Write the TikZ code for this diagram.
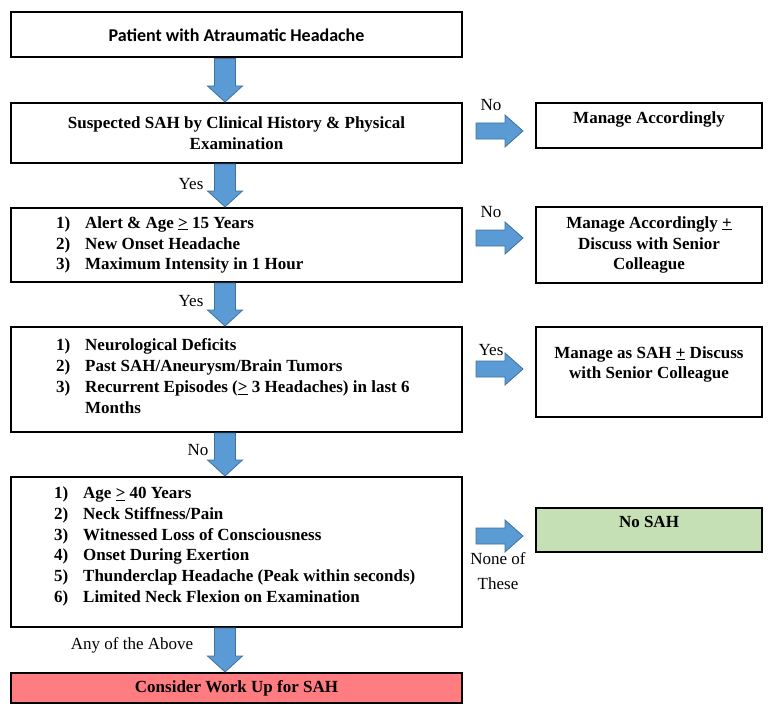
\documentclass[tikz,border=0pt]{standalone}
\usepackage{fontspec}
\setmainfont{Liberation Serif}
\newfontfamily\calibri{Carlito}
\usetikzlibrary{calc}
\definecolor{arrowfill}{HTML}{5B9BD5}
\definecolor{arrowline}{HTML}{41719C}
\definecolor{greenbox}{HTML}{C5E0B4}
\definecolor{redbox}{HTML}{FF7C80}

\newcommand{\itm}[2]{\makebox[29bp][l]{#1}#2}
% block arrow down, from box to box
\newcommand{\blockdown}[2]{%
  \draw[blockarrow] let \p1=($(#1.south west)+(215,0)$), \p2=(#2.north) in
    (\x1-10.5bp,\y1) -- (\x1+10.5bp,\y1) -- (\x1+10.5bp,\y2+16bp) -- (\x1+17.5bp,\y2+16bp)
    -- (\x1,\y2) -- (\x1-17.5bp,\y2+16bp) -- (\x1-10.5bp,\y2+16bp) -- cycle;}
% block arrow right, between two boxes at height #3
\newcommand{\blockright}[3]{%
  \draw[blockarrow] let \p1=(#1.east), \p2=(#2.west), \p3=(0,#3) in
    (\x1+13bp,\y3+8bp) -- (\x2-30bp,\y3+8bp) -- (\x2-30bp,\y3+16bp) -- (\x2-12bp,\y3)
    -- (\x2-30bp,\y3-16bp) -- (\x2-30bp,\y3-8bp) -- (\x1+13bp,\y3-8bp) -- cycle;}

\begin{document}
\begin{tikzpicture}[x=1bp, y=-1bp,
    font=\fontsize{17bp}{20.8bp}\selectfont\bfseries,
    box/.style={draw=black, line width=2bp, minimum width=451bp, inner sep=0pt},
    sidebox/.style={box, minimum width=226bp},
    listtext/.style={anchor=west, align=left, inner sep=0pt},
    tag/.style={font=\fontsize{17bp}{25bp}\selectfont, align=center, inner sep=0pt},
    blockarrow/.style={fill=arrowfill, draw=arrowline, line width=0.8bp, line join=miter}]
  \useasboundingbox (0,0) rectangle (768,714);

  % main column
  \node[box, minimum height=45bp, font=\calibri\fontsize{18bp}{22bp}\selectfont\bfseries] (b1) at (236.5,35) {Patient with Atraumatic Headache};
  \node[box, minimum height=60bp, align=center] (b2) at (236.5,133) {Suspected SAH by Clinical History \& Physical\\Examination};
  \node[box, minimum height=74bp] (b3) at (236.5,245) {};
  \node[listtext] (t3) at ($(b3.west)+(46,0)$) {\itm{1)}{Alert \& Age \underline{>} 15 Years}\\
    \itm{2)}{New Onset Headache}\\
    \itm{3)}{Maximum Intensity in 1 Hour}};
  \node[box, minimum height=105bp] (b4) at (236.5,379.5) {};
  \node[listtext] (t4) at ($(b4.west)+(46,-3.5)$) {\itm{1)}{Neurological Deficits}\\
    \itm{2)}{Past SAH/Aneurysm/Brain Tumors}\\
    \itm{3)}{Recurrent Episodes (\underline{>} 3 Headaches) in last 6}\\
    \itm{}{Months}};
  \node[box, minimum height=150bp] (b5) at (236.5,552) {};
  \node[listtext] (t5) at ($(b5.west)+(44,-5.5)$) {\itm{1)}{Age \underline{>} 40 Years}\\
    \itm{2)}{Neck Stiffness/Pain}\\
    \itm{3)}{Witnessed Loss of Consciousness}\\
    \itm{4)}{Onset During Exertion}\\
    \itm{5)}{Thunderclap Headache (Peak within seconds)}\\
    \itm{6)}{Limited Neck Flexion on Examination}};
  \node[box, minimum height=30bp, fill=redbox] (b6) at (236.5,688) {Consider Work Up for SAH};

  % right column
  \node[sidebox, minimum height=45bp] (r1) at (649,125.5) {};
  \node (r1t) at (649,119) {Manage Accordingly};
  \node[sidebox, minimum height=76bp, align=center] (r2) at (649,245) {Manage Accordingly \underline{+}\\Discuss with Senior\\Colleague};
  \node[sidebox, minimum height=90bp] (r3) at (649,372) {};
  \node[align=center] (r3t) at (649,364.5) {Manage as SAH \underline{+} Discuss\\with Senior Colleague};
  \node[sidebox, minimum height=44bp, fill=greenbox] (r4) at (649,530) {};
  \node (r4t) at (649,522) {No SAH};

  % arrows
  \blockdown{b1}{b2}
  \blockdown{b2}{b3}
  \blockdown{b3}{b4}
  \blockdown{b4}{b5}
  \blockdown{b5}{b6}
  \blockright{b2}{r1}{131}
  \blockright{b3}{r2}{238}
  \blockright{b4}{r3}{369}
  \blockright{b5}{r4}{536}

  % labels
  \node[tag] (l1) at (191,184) {Yes};
  \node[tag] (l2) at (191,301) {Yes};
  \node[tag] (l3) at (198,450) {No};
  \node[tag] (l4) at (132,645) {Any of the Above};
  \node[tag] (l5) at (491,105) {No};
  \node[tag] (l6) at (491,212) {No};
  \node[tag] (l7) at (491,350) {Yes};
  \node[tag] (l8) at (498,571) {None of\\These};
\end{tikzpicture}
\end{document}
